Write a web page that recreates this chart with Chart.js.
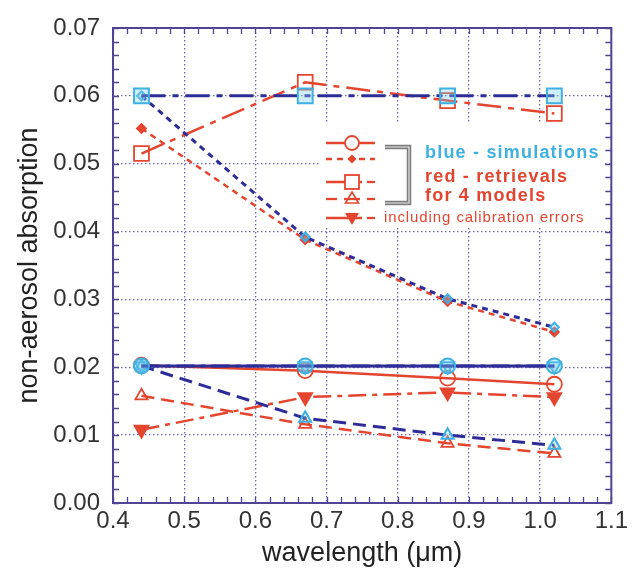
<!DOCTYPE html>
<html>
<head>
<meta charset="utf-8">
<script src="https://cdn.jsdelivr.net/npm/chart.js@4.4.1/dist/chart.umd.min.js"></script>
<style>
html,body{margin:0;padding:0;background:#fff;}
#wrap{position:relative;width:632px;height:569px;}
</style>
</head>
<body>
<div id="wrap"><canvas id="c" width="632" height="569"></canvas></div>
<script>
// ---- data ----
const wavelength = [0.44, 0.67, 0.87, 1.02];
const simCircle = [0.0202, 0.0202, 0.0202, 0.0202];
const retCircle = [0.0203, 0.0195, 0.0184, 0.0175];
const simDiamond = [0.0600, 0.0392, 0.0301, 0.0259];
const retDiamond = [0.0552, 0.0388, 0.0297, 0.0252];
const simSquare = [0.0600, 0.0600, 0.0600, 0.0600];
const retSquare = [0.0515, 0.0620, 0.0593, 0.0574];
const simTriangle = [0.0202, 0.0125, 0.0100, 0.0085];
const retTriangle = [0.0158, 0.0116, 0.0088, 0.0073];
const simInvTriangle = [0.0202, 0.0202, 0.0202, 0.0202];
const retInvTriangle = [0.0108, 0.0156, 0.0163, 0.0156];
const xTickValues = [0.4, 0.5, 0.6, 0.7, 0.8, 0.9, 1.0, 1.1];
const yTickValues = [0.00, 0.01, 0.02, 0.03, 0.04, 0.05, 0.06, 0.07];
const legendLines = ["blue - simulations", "red - retrievals", "for 4 models", "including calibration errors"];

// ---- styles ----
const NAVY = '#2e2d98';
const CYAN = '#3eb0e2';
const CYANFILL = 'rgba(120,205,240,0.35)';
const RED = '#e4452f';
const AXIS = '#4f4393';
const GRID = '#6d66b8';
const FONT = '"Liberation Sans", Arial, Helvetica, sans-serif';

const pts = arr => wavelength.map((w, i) => ({x: w, y: arr[i]}));

function sim(data, style, dash, radius, rot) {
  return {data: pts(data), borderColor: NAVY, borderWidth: 3, borderDash: dash,
    pointStyle: style, pointRotation: rot || 0, pointRadius: radius,
    pointBorderColor: CYAN, pointBackgroundColor: CYANFILL, pointBorderWidth: 2,
    showLine: true, fill: false, tension: 0};
}
function ret(data, style, dash, radius, rot, filled) {
  return {data: pts(data), borderColor: RED, borderWidth: 2.5, borderDash: dash,
    pointStyle: style, pointRotation: rot || 0, pointRadius: radius,
    pointBorderColor: RED, pointBackgroundColor: filled ? RED : 'rgba(255,255,255,0)', pointBorderWidth: 1.8,
    showLine: true, fill: false, tension: 0};
}

const DASH_DIAMOND = [6, 5];
const DASH_SQUARE = [24, 7, 6, 7];
const DASH_TRI = [13, 7];
const DASH_INV = [18, 6, 5, 6];

const datasets = [
  sim(simSquare, 'rect', DASH_SQUARE, 10.5),
  sim(simCircle, 'circle', [], 7.5),
  sim(simInvTriangle, 'triangle', DASH_INV, 7.5, 180),
  sim(simDiamond, 'rectRot', DASH_DIAMOND, 4.5),
  sim(simTriangle, 'triangle', DASH_TRI, 7),
  ret(retSquare, 'rect', DASH_SQUARE, 10.5),
  ret(retCircle, 'circle', [], 7.5),
  ret(retInvTriangle, 'triangle', DASH_INV, 8, 180, true),
  ret(retDiamond, 'rectRot', DASH_DIAMOND, 4.5, 0, true),
  ret(retTriangle, 'triangle', DASH_TRI, 7)
];

// frame + inward minor ticks
const framePlugin = {
  id: 'frame',
  beforeDatasetsDraw(chart) {
    const {ctx, chartArea: a, scales: {x, y}} = chart;
    ctx.save();
    ctx.strokeStyle = AXIS;
    ctx.lineWidth = 1.3;
    ctx.beginPath();
    for (let i = 0; i <= 35; i++) {
      const px = Math.round(x.getPixelForValue(0.4 + i * 0.02)) + 0.5;
      ctx.moveTo(px, a.bottom); ctx.lineTo(px, a.bottom - 6);
      ctx.moveTo(px, a.top); ctx.lineTo(px, a.top + 6);
    }
    for (let i = 0; i <= 35; i++) {
      const py = Math.round(y.getPixelForValue(i * 0.002)) + 0.5;
      ctx.moveTo(a.left, py); ctx.lineTo(a.left + 6, py);
      ctx.moveTo(a.right, py); ctx.lineTo(a.right - 6, py);
    }
    ctx.stroke();
    ctx.lineWidth = 2;
    ctx.strokeRect(a.left, a.top, a.right - a.left, a.bottom - a.top);
    ctx.restore();
  }
};

// custom legend
const legendPlugin = {
  id: 'customLegend',
  afterDatasetsDraw(chart) {
    const {ctx, chartArea: a} = chart;
    const L = a.left, T = a.top;
    ctx.save();
    ctx.fillStyle = '#fff';
    ctx.fillRect(L + 207, T + 96, 284, 104);
    ctx.strokeStyle = RED; ctx.fillStyle = RED;
    ctx.lineWidth = 2.3;
    const x0 = L + 213, x1 = L + 262, mx = L + 239;
    function seg(y, xa, xb, dash) { ctx.setLineDash(dash); ctx.beginPath(); ctx.moveTo(xa, y); ctx.lineTo(xb, y); ctx.stroke(); ctx.setLineDash([]); }
    // row 1 circle solid
    let yy = T + 115;
    seg(yy, x0, x1, []);
    ctx.fillStyle = '#fff'; ctx.beginPath(); ctx.arc(mx, yy, 7, 0, Math.PI * 2); ctx.fill(); ctx.lineWidth = 1.8; ctx.stroke();
    // row 2 diamond dashed
    yy = T + 131; ctx.lineWidth = 2.3;
    seg(yy, x0, x1, [6, 5]);
    ctx.fillStyle = RED; ctx.beginPath(); ctx.moveTo(mx, yy - 4.5); ctx.lineTo(mx + 4.5, yy); ctx.lineTo(mx, yy + 4.5); ctx.lineTo(mx - 4.5, yy); ctx.closePath(); ctx.fill();
    // row 3 square
    yy = T + 154;
    seg(yy, x0, mx + 10, []); seg(yy, x1 - 8, x1, []);
    ctx.fillStyle = '#fff'; ctx.fillRect(mx - 7, yy - 7, 14, 14); ctx.lineWidth = 1.8; ctx.strokeRect(mx - 7, yy - 7, 14, 14);
    // row 4 triangle
    yy = T + 171; ctx.lineWidth = 2.3;
    seg(yy, x0, x0 + 11, []); seg(yy, mx - 8, mx + 8, []); seg(yy, x1 - 8, x1, []);
    ctx.lineWidth = 1.6; ctx.beginPath(); ctx.moveTo(mx, yy - 7); ctx.lineTo(mx + 6.5, yy + 4); ctx.lineTo(mx - 6.5, yy + 4); ctx.closePath(); ctx.stroke();
    // row 5 inverted triangle
    yy = T + 190; ctx.lineWidth = 2.3;
    seg(yy, x0, mx + 10, []); seg(yy, x1 - 8, x1, []);
    ctx.fillStyle = RED; ctx.beginPath(); ctx.moveTo(mx - 7, yy - 5); ctx.lineTo(mx + 7, yy - 5); ctx.lineTo(mx, yy + 7); ctx.closePath(); ctx.fill();
    // bracket (double grey line)
    ctx.lineJoin = 'miter';
    ctx.strokeStyle = '#7c7c7c'; ctx.lineWidth = 4.5;
    ctx.beginPath(); ctx.moveTo(L + 272, T + 119); ctx.lineTo(L + 296, T + 119); ctx.lineTo(L + 296, T + 175); ctx.lineTo(L + 272, T + 175); ctx.stroke();
    ctx.strokeStyle = '#e8e8e8'; ctx.lineWidth = 1.2;
    ctx.beginPath(); ctx.moveTo(L + 272, T + 119); ctx.lineTo(L + 296, T + 119); ctx.lineTo(L + 296, T + 175); ctx.lineTo(L + 272, T + 175); ctx.stroke();
    // texts
    ctx.textBaseline = 'middle'; ctx.textAlign = 'left';
    try { ctx.letterSpacing = '1.2px'; } catch (e) {}
    ctx.font = 'bold 18px ' + FONT;
    ctx.fillStyle = CYAN; ctx.fillText(legendLines[0], L + 312, T + 125);
    ctx.fillStyle = RED; ctx.fillText(legendLines[1], L + 312, T + 149);
    ctx.fillText(legendLines[2], L + 312, T + 168);
    try { ctx.letterSpacing = '0.9px'; } catch (e) {}
    ctx.font = '15px ' + FONT;
    ctx.fillText(legendLines[3], L + 271, T + 190);
    ctx.restore();
  }
};

new Chart(document.getElementById('c'), {
  type: 'scatter',
  data: {datasets},
  plugins: [framePlugin, legendPlugin],
  options: {
    responsive: false,
    animation: false,
    layout: {padding: {top: 28, right: 16, left: 0, bottom: 0}},
    plugins: {legend: {display: false}, tooltip: {enabled: false}},
    elements: {line: {borderCapStyle: 'butt'}},
    scales: {
      x: {
        type: 'linear', min: 0.4, max: 1.1,
        afterBuildTicks: s => { s.ticks = xTickValues.map(v => ({value: v})); },
        afterFit: s => { s.height = 66; },
        ticks: {callback: v => v.toFixed(1), color: '#333', font: {family: FONT, size: 24}, padding: 4, maxRotation: 0, autoSkip: false},
        grid: {color: ctx => (ctx.tick && (ctx.tick.value <= 0.4001 || ctx.tick.value >= 1.0999)) ? 'rgba(0,0,0,0)' : GRID, lineWidth: 1.3, drawTicks: false},
        border: {display: false, dash: [1.5, 2.5]},
        title: {display: true, text: 'wavelength (μm)', color: '#222', font: {family: FONT, size: 27, lineHeight: 1}, padding: {top: 0, bottom: 2}}
      },
      y: {
        type: 'linear', min: 0, max: 0.07,
        afterBuildTicks: s => { s.ticks = yTickValues.map(v => ({value: v})); },
        afterFit: s => { s.width = 113; },
        ticks: {callback: v => v.toFixed(2), color: '#333', font: {family: FONT, size: 24}, padding: 13, autoSkip: false},
        grid: {color: ctx => (ctx.tick && (ctx.tick.value <= 0.0001 || ctx.tick.value >= 0.0699)) ? 'rgba(0,0,0,0)' : GRID, lineWidth: 1.3, drawTicks: false},
        border: {display: false, dash: [1.5, 2.5]},
        title: {display: true, text: 'non-aerosol absorption', color: '#222', font: {family: FONT, size: 27, lineHeight: 1}, padding: {top: 16, bottom: 0}}
      }
    }
  }
});
</script>
</body>
</html>
